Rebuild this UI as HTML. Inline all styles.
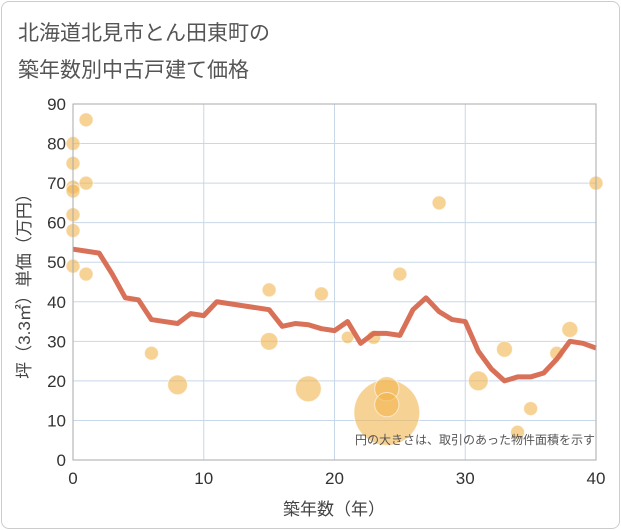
<!DOCTYPE html>
<html><head><meta charset="utf-8"><style>
body{margin:0;background:#fff;font-family:"Liberation Sans","Noto Sans CJK JP",sans-serif;}
#card{position:absolute;left:1px;top:1px;width:617px;height:526px;border:1px solid #ccc;border-radius:8px;}
</style></head><body>
<div id="card"></div>
<svg id="chart" width="621" height="530" style="position:absolute;left:0;top:0">
<text x="18" y="40" font-size="21" fill="#555">北海道北見市とん田東町の</text>
<text x="18" y="77" font-size="21" fill="#555">築年数別中古戸建て価格</text>
<g id="grid"></g><g id="marks"></g><g id="axes"></g>
<text x="595" y="444" font-size="12" fill="#555" text-anchor="end">円の大きさは、取引のあった物件面積を示す</text>
<text x="334" y="515" font-size="17" fill="#444" text-anchor="middle">築年数（年）</text>
<text transform="translate(30,282) rotate(-90)" font-size="17" fill="#444" text-anchor="middle">坪（3.3㎡）単価（万円）</text>
</svg>
<script>
const xTicks=[0,10,20,30,40];
const yTicks=[0,10,20,30,40,50,60,70,80,90];
const lineYears=[0,1,2,3,4,5,6,7,8,9,10,11,12,13,14,15,16,17,18,19,20,21,22,23,24,25,26,27,28,29,30,31,32,33,34,35,36,37,38,39,40];
const lineValues=[53.3,52.8,52.3,47,41,40.5,35.5,35,34.5,37,36.5,40,39.5,39,38.5,38,33.8,34.5,34.2,33.2,32.7,35,29.5,32,32,31.5,38,41,37.5,35.5,35,27.5,23,20,21,21,22,25.5,30,29.5,28.3];
const ptYears=[0,0,0,0,0,0,0,1,1,1,6,8,15,15,18,19,21,23,24,24,24,25,28,31,33,34,35,37,38,40];
const ptValues=[80,75,69,68,62,58,49,86,70,47,27,19,43,30,18,42,31,31,12,18,14,47,65,20,28,7,13,27,33,70];
const ptSizes=[1,1,1,1,1,1,1,1,1,1,1,2,1,1.6,3.4,1,0.8,1,22,3,3,1,1,2,1.3,1,1,1,1.3,1];
const NS="http://www.w3.org/2000/svg";
const X0=73,X1=596,Y0=460,Y1=104;
const sx=v=>X0+(v-0)/(40-0)*(X1-X0);
const sy=v=>Y0-(v/90)*(Y0-Y1);
function mk(t,a,p){const e=document.createElementNS(NS,t);for(const k in a)e.setAttribute(k,a[k]);p.appendChild(e);return e;}
const grid=document.getElementById('grid'),marks=document.getElementById('marks'),axes=document.getElementById('axes');
yTicks.forEach(v=>{const l=mk('line',{x1:X0,x2:X1,y1:sy(v),y2:sy(v),stroke:'#c8d8e8','stroke-width':1},grid);

const t=mk('text',{x:X0-7,y:sy(v)+6,'font-size':17,fill:'#333','text-anchor':'end'},axes);t.textContent=v;
});
xTicks.forEach(v=>{const l=mk('line',{x1:sx(v),x2:sx(v),y1:Y1,y2:Y0,stroke:'#c8d8e8','stroke-width':1},grid);

const t=mk('text',{x:sx(v),y:Y0+24,'font-size':17,fill:'#333','text-anchor':'middle'},axes);t.textContent=v;
});
const fr=mk('rect',{x:X0,y:Y1,width:X1-X0,height:Y0-Y1,fill:'none',stroke:'#aaa','stroke-width':1},axes);

ptYears.forEach((yr,i)=>{const c=mk('circle',{cx:sx(yr),cy:sy(ptValues[i]),r:7*Math.sqrt(ptSizes[i]),fill:'#f2b44f','fill-opacity':0.6,stroke:'#fff','stroke-opacity':0.6,'stroke-width':1},marks);
});
const pl=mk('polyline',{points:lineYears.map((y,i)=>sx(y)+','+sy(lineValues[i])).join(' '),fill:'none',stroke:'#d6694f','stroke-opacity':0.95,'stroke-width':5,'stroke-linejoin':'round'},marks);

</script>
</body></html>
